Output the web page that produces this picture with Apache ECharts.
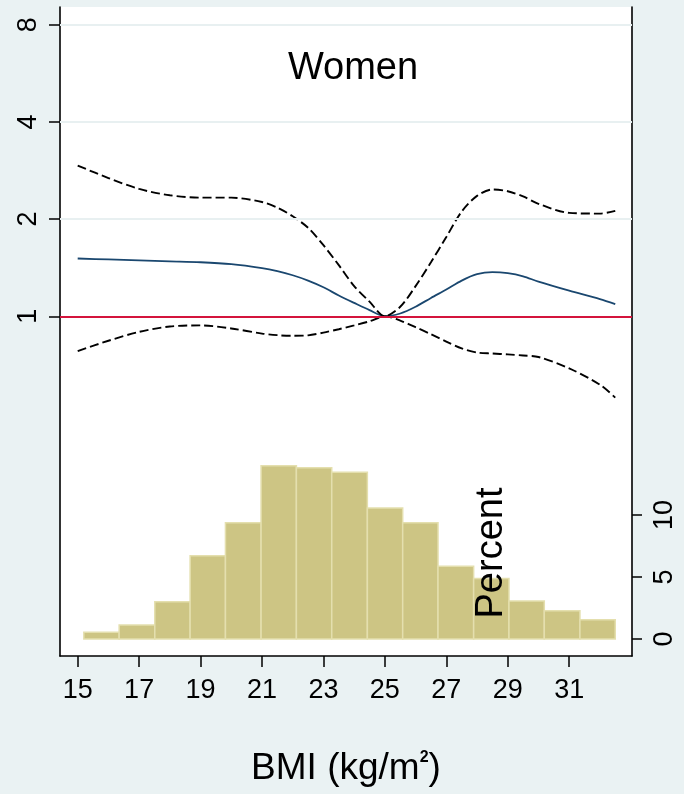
<!DOCTYPE html>
<html>
<head>
<meta charset="utf-8">
<script src="https://cdn.jsdelivr.net/npm/echarts@6/dist/echarts.min.js"></script>
<style>
html,body{margin:0;padding:0;background:#eaf2f3;}
#chart{width:684px;height:794px;}
</style>
</head>
<body>
<div id="chart"></div>
<script>
// ---- data ----
const bmi = [15,16,17,18,19,20,21,21.5,22,22.5,23,23.5,24,24.5,25,25.5,26,26.5,27,27.5,28,28.5,29,29.5,30,31,32,32.5];
const hrEstimate = [1.51,1.50,1.49,1.48,1.47,1.45,1.41,1.38,1.34,1.29,1.23,1.16,1.10,1.045,1.0,1.02,1.07,1.14,1.21,1.29,1.35,1.37,1.36,1.33,1.28,1.20,1.13,1.09];
const hrUpper = [2.93,2.68,2.48,2.37,2.33,2.33,2.26,2.17,2.04,1.88,1.66,1.44,1.24,1.11,1.0,1.07,1.24,1.47,1.76,2.11,2.36,2.47,2.44,2.35,2.23,2.09,2.08,2.12];
const hrLower = [0.78,0.84,0.895,0.93,0.937,0.917,0.884,0.874,0.87,0.873,0.89,0.912,0.937,0.965,1.0,0.97,0.925,0.88,0.835,0.795,0.772,0.767,0.762,0.756,0.748,0.69,0.614,0.56];
const histEdges = [15.20,16.35,17.51,18.66,19.81,20.97,22.12,23.27,24.43,25.58,26.73,27.89,29.04,30.19,31.35,32.50];
const histPercent = [0.54,1.13,3.01,6.72,9.38,13.98,13.82,13.44,10.56,9.38,5.86,4.89,3.06,2.28,1.56];
const xTicks = [15,17,19,21,23,25,27,29,31];
const hrTicks = [1,2,4,8];
const pctTicks = [0,5,10];
const panelTitle = 'Women';
const rightTitle = 'Percent';

// ---- build ----
const FONT = '"Liberation Sans", Arial, Helvetica, sans-serif';
const log2 = v => Math.log(v) / Math.LN2;
const pair = (xs, ys) => xs.map((x, i) => [x, log2(ys[i])]);
const histData = histPercent.map((p, i) => [histEdges[i], histEdges[i + 1], p]);

const chart = echarts.init(document.getElementById('chart'), null, {renderer: 'canvas'});
chart.setOption({
  backgroundColor: '#eaf2f3',
  animation: false,
  grid: {left: 60, top: 7, width: 572, height: 649, show: true, backgroundColor: '#ffffff', borderWidth: 0},
  xAxis: {
    type: 'value', min: 14.424, max: 33.045,
    name: 'BMI (kg/m{sup|2})',
    nameLocation: 'middle', nameGap: 94,
    nameTextStyle: {
      fontFamily: FONT, fontSize: 37, color: '#000',
      rich: {sup: {fontFamily: FONT, fontSize: 16, fontWeight: 'bold', color: '#000', verticalAlign: 'top', padding: [0, 0, 16, 0]}}
    },
    axisLine: {show: true, onZero: false, lineStyle: {color: '#000', width: 1.6}},
    axisTick: {show: true, length: 11, lineStyle: {color: '#000', width: 1.5}, customValues: xTicks},
    axisLabel: {customValues: xTicks, margin: 21, fontFamily: FONT, fontSize: 27, color: '#000'},
    splitLine: {show: false}
  },
  yAxis: [
    {
      type: 'value', min: -3.495, max: 3.182, position: 'left',
      axisLine: {show: true, onZero: false, lineStyle: {color: '#000', width: 1.6}},
      axisTick: {show: true, length: 11, lineStyle: {color: '#000', width: 1.5}, customValues: hrTicks.map(log2)},
      axisLabel: {customValues: hrTicks.map(log2), rotate: 90, margin: 18, fontFamily: FONT, fontSize: 27, color: '#000',
        formatter: v => String(Math.round(Math.pow(2, v)))},
      splitLine: {show: false}
    },
    {
      type: 'value', min: -1.37, max: 50.97, position: 'right',
      axisLine: {show: true, onZero: false, lineStyle: {color: '#000', width: 1.6}},
      axisTick: {show: true, length: 10, lineStyle: {color: '#000', width: 1.5}, customValues: pctTicks},
      axisLabel: {customValues: pctTicks, rotate: 90, margin: 19, fontFamily: FONT, fontSize: 27, color: '#000'},
      splitLine: {show: false}
    }
  ],
  graphic: [
    {type: 'text', x: 353, y: 69, z: 100, style: {text: panelTitle, font: '38px ' + FONT, fill: '#000', textAlign: 'center', textVerticalAlign: 'middle'}},
    {type: 'text', x: 492, y: 553, rotation: Math.PI / 2, z: 100, style: {text: rightTitle, font: '38px ' + FONT, fill: '#000', textAlign: 'center', textVerticalAlign: 'middle'}}
  ],
  series: [
    {
      type: 'custom', xAxisIndex: 0, yAxisIndex: 1, z: 1,
      data: histData,
      encode: {x: [0, 1], y: 2},
      renderItem: (params, api) => {
        const a = api.coord([api.value(0), 0]);
        const b = api.coord([api.value(1), api.value(2)]);
        return {type: 'rect', shape: {x: a[0], y: b[1], width: b[0] - a[0], height: a[1] - b[1]},
          style: {fill: '#cdc584', stroke: '#e4dfae', lineWidth: 1.5}};
      }
    },
    {
      type: 'line', yAxisIndex: 0, z: 3, data: pair(bmi, hrEstimate), smooth: 0.3, showSymbol: false,
      lineStyle: {color: '#1a476f', width: 1.8},
      markLine: {
        silent: true, symbol: ['none', 'none'], label: {show: false},
        data: [
          {yAxis: log2(2), lineStyle: {color: '#e8f0f1', width: 2, type: 'solid'}},
          {yAxis: log2(4), lineStyle: {color: '#e8f0f1', width: 2, type: 'solid'}},
          {yAxis: log2(8), lineStyle: {color: '#e8f0f1', width: 2, type: 'solid'}},
          {yAxis: 0, lineStyle: {color: '#d4143c', width: 2, type: 'solid'}}
        ]
      }
    },
    {
      type: 'line', yAxisIndex: 0, z: 4, data: pair(bmi, hrUpper), smooth: 0.3, showSymbol: false,
      lineStyle: {color: '#000', width: 1.9, type: [9, 4]}
    },
    {
      type: 'line', yAxisIndex: 0, z: 4, data: pair(bmi, hrLower), smooth: 0.3, showSymbol: false,
      lineStyle: {color: '#000', width: 1.9, type: [9, 4]}
    }
  ]
});
</script>
</body>
</html>
